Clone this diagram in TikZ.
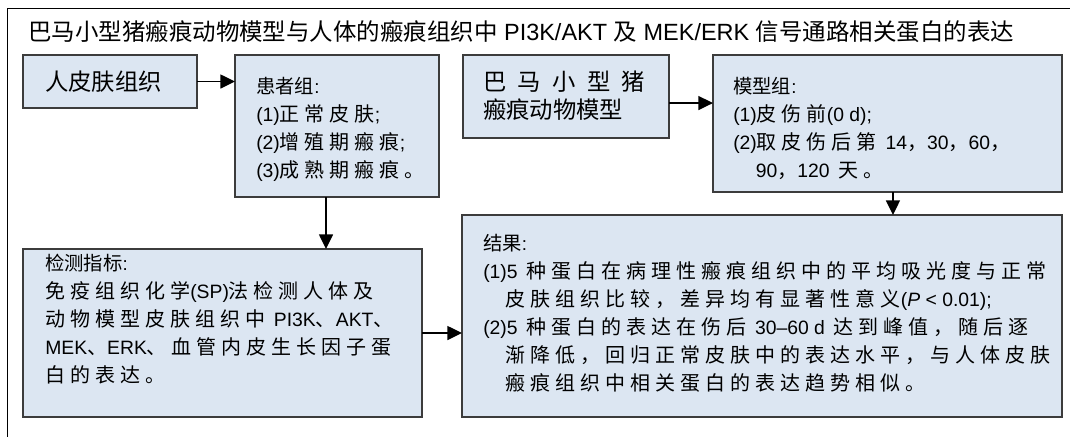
\documentclass[tikz,border=0pt]{standalone}
\usepackage{fontspec}
\setmainfont{Noto Sans CJK SC}
\newfontfamily\hdcjk{Noto Sans CJK SC}
\newfontfamily\bodycjk[LetterSpace=25]{Noto Sans CJK SC}
\newfontfamily\enbody[Scale=0.967]{Liberation Sans}
\newfontfamily\entitle{Liberation Sans}
\newcommand\lat[1]{{\enbody #1}}
\newcommand\tlat[1]{{\entitle #1}}
\newcommand\gap{\hspace{6.5pt}}
\newcommand\hdr[1]{{\fontsize{14.5pt}{21pt}\selectfont\hdcjk #1\lat{:}}}
\usetikzlibrary{arrows.meta,shadows}
\definecolor{boxfill}{HTML}{DCE6F2}
\definecolor{boxline}{HTML}{3C3C3C}
\tikzset{
  box/.style={draw=boxline, line width=0.9pt, fill=boxfill, inner sep=0pt, outer sep=0pt, anchor=north west,
    drop shadow={shadow xshift=1.1pt, shadow yshift=-1.1pt, fill=black!60, opacity=1}},
  txt/.style={anchor=north west, inner sep=0pt, align=left, font=\fontsize{15pt}{21pt}\selectfont\bodycjk},
  lbl/.style={anchor=north west, inner sep=0pt, align=left, font=\fontsize{17.5pt}{21pt}\selectfont\hdcjk},
  arr/.style={draw=black, line width=1.1pt, -{Triangle[length=11pt,width=10.5pt]}},
}
\begin{document}
\begin{tikzpicture}[x=0.75pt,y=-0.75pt]
\useasboundingbox (0,0) rectangle (1070,437);
\draw[line width=0.75pt] (1070,8) -- (7,8) -- (7,437);
\node[anchor=north west, inner sep=0pt, font=\fontsize{17.6pt}{22pt}\selectfont\hdcjk] (title) at (28,20)
  {巴马小型猪瘢痕动物模型与人体的瘢痕组织中\tlat{ PI3K/AKT }及\tlat{ MEK/ERK }信号通路相关蛋白的表达};

\node[box, minimum width=130.5pt, minimum height=39.75pt] (skin) at (23,55) {};
\node[box, minimum width=153pt, minimum height=106.5pt] (pat) at (235,55) {};
\node[box, minimum width=154.5pt, minimum height=62.25pt] (bama) at (463,55) {};
\node[box, minimum width=261.75pt, minimum height=102.75pt] (model) at (713,55) {};
\node[box, minimum width=299.25pt, minimum height=126pt] (det) at (23,249) {};
\node[box, minimum width=450pt, minimum height=151.5pt] (res) at (462,215) {};

\node[lbl] (skinT) at (45,71) {人皮肤组织};
\node[lbl] (bamaT) at (483,71)
  {巴\hspace{8.5pt}马\hspace{8.5pt}小\hspace{8.5pt}型\hspace{8.5pt}猪\\%
瘢痕动物模型};
\node[txt] (patT) at (256,77) {\hdr{患者组}\\%
\lat{(1)}正常皮肤\lat{;}\\%
\lat{(2)}增殖期瘢痕\lat{;}\\%
\lat{(3)}成熟期瘢痕。};
\node[txt] (modelT) at (733,77) {\hdr{模型组}\\%
\lat{(1)}皮伤前\lat{(0 d);}\\%
\lat{(2)}取皮伤后第\gap\lat{14}，\lat{30}，\lat{60}，\\%
\hspace*{17pt}\lat{90}，\lat{120}\gap 天。};
\node[txt] (detT) at (45,254) {\hdr{检测指标}\\%
免疫组织化学\lat{(SP)}法检测人体及\\%
动物模型皮肤组织中\gap\lat{PI3K}、\lat{AKT}、\\%
\lat{MEK}、\lat{ERK}、血管内皮生长因子蛋\\%
白的表达。};
\node[txt] (resT) at (483,234) {\hdr{结果}\\%
\lat{(1)5}\gap 种蛋白在病理性瘢痕组织中的平均吸光度与正常\\%
\hspace*{17pt}皮肤组织比较，差异均有显著性意义\lat{(\textit{P} < 0.01);}\\%
\lat{(2)5}\gap 种蛋白的表达在伤后\gap\lat{30–60 d}\gap 达到峰值，随后逐\\%
\hspace*{17pt}渐降低，回归正常皮肤中的表达水平，与人体皮肤\\%
\hspace*{17pt}瘢痕组织中相关蛋白的表达趋势相似。};

\draw[arr] (skin.east) -- (skin.east -| pat.west);
\coordinate (bm) at ([yshift=-4.9pt]bama.east);
\draw[arr] (bm) -- (bm -| model.west);
\coordinate (pd) at ([xshift=-8.25pt]pat.south);
\draw[arr] (pd) -- (pd |- det.north);
\coordinate (mr) at ([xshift=4.1pt]model.south);
\draw[arr] (mr) -- (mr |- res.north);
\draw[arr] (det.east) -- (det.east -| res.west);
\end{tikzpicture}
\end{document}
